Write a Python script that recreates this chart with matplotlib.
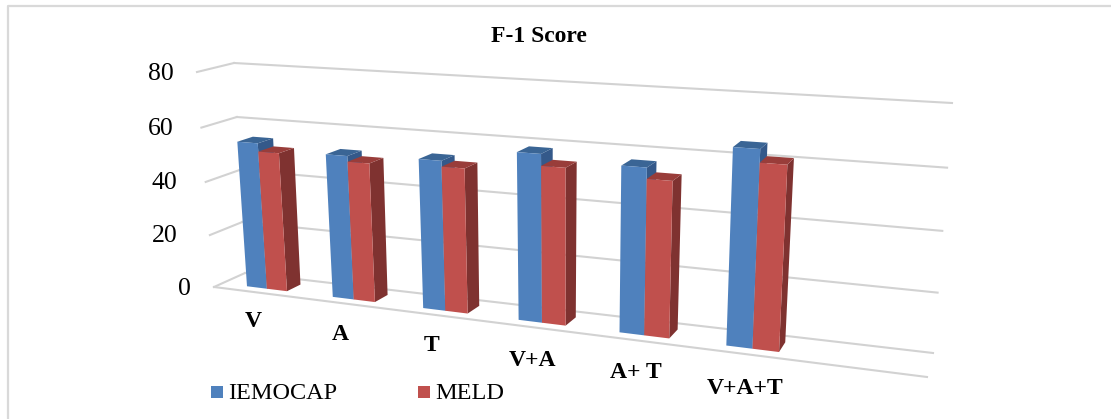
import numpy as np
import matplotlib
matplotlib.use('Agg')
import matplotlib.pyplot as plt
from matplotlib.transforms import Transform

categories = ['V', 'A', 'T', 'V+A', 'A+ T', 'V+A+T']
iemocap = [54.5, 52.5, 53.5, 58.5, 56.7, 65.3]
meld = [51.5, 50.5, 51.5, 54.5, 53, 61]
yticks = [0, 20, 40, 60, 80]

BLUE, BLUE_TOP, BLUE_SIDE = '#4F81BD', '#3A6595', '#34598A'
RED, RED_TOP, RED_SIDE = '#C0504D', '#993D3A', '#7F3230'
GRID = '#d2d2d2'
NSLOT = 7.0
YMAX = 80.0

plt.rcParams['font.family'] = ['Liberation Serif', 'DejaVu Serif']


def homography(corners):
    # corners in image pixels, for (0,0) (NSLOT,0) (NSLOT,YMAX) (0,YMAX)
    src = [(0, 0), (NSLOT, 0), (NSLOT, YMAX), (0, YMAX)]
    A, b = [], []
    for (x, y), (u, v) in zip(src, corners):
        A.append([x, y, 1, 0, 0, 0, -u * x, -u * y])
        A.append([0, 0, 0, x, y, 1, -v * x, -v * y])
        b += [u, v]
    h = np.linalg.solve(np.array(A, float), np.array(b, float))
    return np.append(h, 1).reshape(3, 3)


FRONT = homography([(214, 287), (927, 377), (947, 116), (197, 72)])
BACK = homography([(245, 273), (933, 353), (952, 103), (234, 63)])


class Depth(Transform):
    # (slot, value) at depth d, 0 = front of floor, 1 = back wall
    input_dims = 2
    output_dims = 2

    def __init__(self, d):
        super().__init__()
        self.d = d

    def transform_non_affine(self, values):
        values = np.asarray(values, float)
        p = np.column_stack([values, np.ones(len(values))])
        f = p @ FRONT.T
        b = p @ BACK.T
        f = f[:, :2] / f[:, 2:]
        b = b[:, :2] / b[:, 2:]
        return f * (1 - self.d) + b * self.d


fig = plt.figure(figsize=(11.11, 4.19), dpi=100)
ax = fig.add_axes([0, 0, 1, 1])
ax.set_xlim(0, 1111)
ax.set_ylim(419, 0)
ax.axis('off')

# only the top and left edges of the frame are in the crop
ax.plot([8, 8, 1111], [419, 6, 6], color='#d9d9d9', lw=1.6)

front = Depth(0) + ax.transData
back = Depth(1) + ax.transData

for v in yticks:
    ax.plot([0, NSLOT], [v, v], color=GRID, lw=1.5, transform=back, zorder=1)
    # left wall
    x0, y0 = Depth(0).transform([[0, v]])[0]
    x1, y1 = Depth(1).transform([[0, v]])[0]
    ax.plot([x0, x1], [y0, y1], color=GRID, lw=1.5, zorder=1)
ax.plot([0, NSLOT], [0, 0], color=GRID, lw=1.5, transform=front, zorder=1)

D0, D1 = 0.27, 0.72
GROUP = 0.47


def face(pts, color, z):
    # pts are (slot, value, depth)
    xy = np.array([Depth(d).transform([[x, v]])[0] for x, v, d in pts])
    ax.fill(xy[:, 0], xy[:, 1], color=color, lw=0, zorder=z)


def bar(x0, x1, v, colors, z):
    c, top, side = colors
    face([(x1, 0, D0), (x1, 0, D1), (x1, v, D1), (x1, v, D0)], side, z)
    face([(x0, v, D0), (x1, v, D0), (x1, v, D1), (x0, v, D1)], top, z)
    face([(x0, 0, D0), (x1, 0, D0), (x1, v, D0), (x0, v, D0)], c, z + 0.1)


for i in range(len(categories)):
    c = 0.53 + i * 0.994
    bar(c - GROUP / 2, c, iemocap[i], (BLUE, BLUE_TOP, BLUE_SIDE), 2 + i)
    bar(c, c + GROUP / 2, meld[i], (RED, RED_TOP, RED_SIDE), 2.3 + i)

ytick_pos = [(191, 289), (178, 236), (177, 183), (174, 129), (174, 74)]
for v, (x, y) in zip(yticks, ytick_pos):
    ax.text(x, y, str(v), ha='right', va='center', fontsize=18.5, color='black')

cat_pos = [(253, 321.5), (340, 334.5), (432, 345.5), (532, 360), (636, 372.5), (745, 388.5)]
for s, (x, y) in zip(categories, cat_pos):
    ax.text(x, y, s, ha='center', va='center', fontsize=17, fontweight='bold', color='black')

ax.text(539, 37, 'F-1 Score', ha='center', va='center', fontsize=17, fontweight='bold', color='black')

ax.fill([211, 223, 223, 211], [386, 386, 398, 398], color=BLUE, lw=0)
ax.text(228, 393.5, 'IEMOCAP', ha='left', va='center', fontsize=17.5, color='black')
ax.fill([418, 430, 430, 418], [386, 386, 398, 398], color=RED, lw=0)
ax.text(435, 393.5, 'MELD', ha='left', va='center', fontsize=17.5, color='black')

fig.savefig('out.png', dpi=100)
